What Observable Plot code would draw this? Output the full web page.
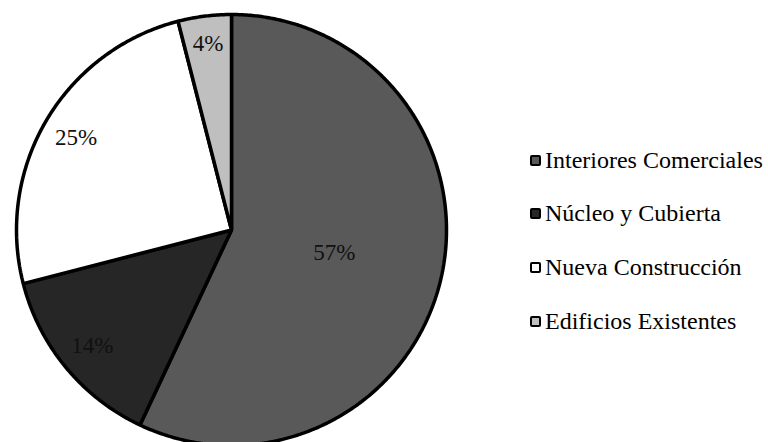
<!DOCTYPE html>
<html>
<head>
<meta charset="utf-8">
<script src="https://cdn.jsdelivr.net/npm/d3@7"></script>
<script src="https://cdn.jsdelivr.net/npm/@observablehq/plot@0.6"></script>
<style>
  html, body { margin: 0; padding: 0; background: #fff; }
  #chart { position: relative; width: 768px; height: 442px; overflow: hidden; }
  #chart svg { position: absolute; left: 0; top: 0; }
  .legend { position: absolute; left: 530px; top: 145px; font-family: "Liberation Serif", "Times New Roman", serif; font-size: 24px; color: #000; }
  .legend .row { display: flex; align-items: center; height: 30px; margin-bottom: 23.7px; white-space: nowrap; }
  .legend .sw { width: 7px; height: 7px; border: 2.5px solid #000; border-radius: 2px; margin-right: 4px; box-sizing: content-box; flex: none; }
</style>
</head>
<body>
<div id="chart"></div>
<script>
// Project segments, clockwise from 12 o'clock
const categories = ["Interiores Comerciales", "Núcleo y Cubierta", "Nueva Construcción", "Edificios Existentes"];
const shares = [57, 14, 25, 4];
const fills = ["#595959", "#262626", "#ffffff", "#bfbfbf"];

// Slice angles from d3.pie (unsorted, starting at the top)
const arcs = d3.pie().sort(null).value(d => d)(shares);

// Each slice as a closed polygon in unit coordinates (y up)
const outline = [];
arcs.forEach((a, i) => {
  outline.push({cat: categories[i], px: 0, py: 0});
  const steps = Math.max(2, Math.ceil((a.endAngle - a.startAngle) / (Math.PI / 360)));
  for (let k = 0; k <= steps; k++) {
    const t = a.startAngle + (a.endAngle - a.startAngle) * k / steps;
    outline.push({cat: categories[i], px: Math.sin(t), py: Math.cos(t)});
  }
});

// Percentage labels along each slice's middle angle:
// the dominant slice is labelled nearer the centre, thin slices near the rim
const labels = arcs.map((a, i) => {
  const mid = (a.startAngle + a.endAngle) / 2;
  const r = shares[i] > 50 ? 0.49 : shares[i] < 10 ? 0.87 : 0.84;
  return {text: shares[i] + "%", px: r * Math.sin(mid), py: r * Math.cos(mid)};
});

const plot = Plot.plot({
  width: 768,
  height: 442,
  margin: 0,
  x: {domain: [-1, 1], range: [16, 446], axis: null},
  y: {domain: [-1, 1], range: [445, 14], axis: null},
  color: {domain: categories, range: fills},
  style: {background: "transparent", overflow: "visible"},
  marks: [
    Plot.line(outline, {
      x: "px", y: "py", z: "cat", fill: "cat",
      stroke: "#000", strokeWidth: 3.5, strokeLinejoin: "miter",
      curve: "linear-closed"
    }),
    Plot.text(labels, {
      x: "px", y: "py", text: "text",
      fontSize: 23, fontFamily: "Liberation Serif, Times New Roman, serif",
      fill: "#111"
    })
  ]
});

const chart = document.getElementById("chart");
chart.appendChild(plot);

// Legend with bordered swatches
const legend = document.createElement("div");
legend.className = "legend";
categories.forEach((c, i) => {
  const row = document.createElement("div");
  row.className = "row";
  const sw = document.createElement("span");
  sw.className = "sw";
  sw.style.background = fills[i];
  const label = document.createElement("span");
  label.textContent = c;
  row.appendChild(sw);
  row.appendChild(label);
  legend.appendChild(row);
});
chart.appendChild(legend);
</script>
</body>
</html>
